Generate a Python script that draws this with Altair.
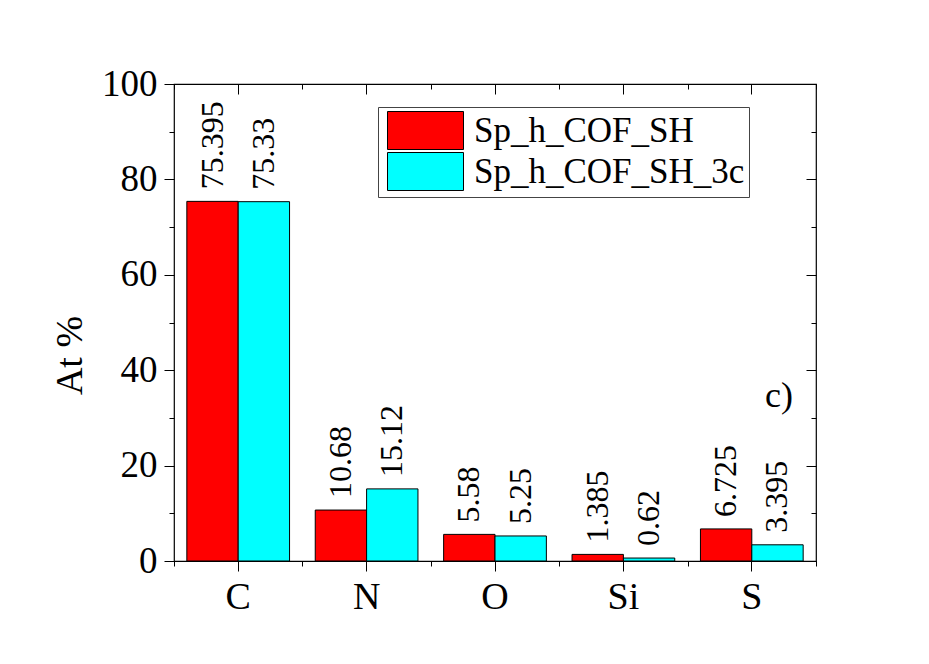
import altair as alt
import pandas as pd

elements = ["C", "N", "O", "Si", "S"]
series = ["Sp_h_COF_SH", "Sp_h_COF_SH_3c"]
vals_sh = [75.395, 10.68, 5.58, 1.385, 6.725]
vals_3c = [75.33, 15.12, 5.25, 0.62, 3.395]
labels_sh = ["75.395", "10.68", "5.58", "1.385", "6.725"]
labels_3c = ["75.33", "15.12", "5.25", "0.62", "3.395"]
colors = ["#FF0000", "#00FFFF"]
y_major = [0, 20, 40, 60, 80, 100]
y_minor = [10, 30, 50, 70, 90]
panel_tag = ["c)"]

rows = []
for e, v, l in zip(elements, vals_sh, labels_sh):
    rows.append({"Element": e, "Series": series[0], "Value": v, "Label": l})
for e, v, l in zip(elements, vals_3c, labels_3c):
    rows.append({"Element": e, "Series": series[1], "Value": v, "Label": l})
df = pd.DataFrame(rows)

FONT = "Liberation Serif"

xscale = alt.Scale(domain=elements, paddingInner=0, paddingOuter=0)
yscale = alt.Scale(domain=[0, 100], nice=False, zero=True)
xoff = alt.XOffset("Series:N", sort=series,
                   scale=alt.Scale(domain=series, paddingOuter=0.25, paddingInner=0))


def ax(**kw):
    base = dict(title=None, domain=False, grid=False, tickColor="black", tickWidth=1)
    base.update(kw)
    return alt.Axis(**base)


bars = alt.Chart(df).mark_bar(stroke="black", strokeWidth=1).encode(
    x=alt.X("Element:N", sort=elements, scale=xscale,
            axis=ax(orient="bottom", labelFont=FONT, labelFontSize=38, labelColor="black",
                    labelPadding=7, labelAngle=0, tickSize=10)),
    xOffset=xoff,
    y=alt.Y("Value:Q", scale=yscale,
            axis=ax(orient="left", values=y_major, tickSize=10, labelPadding=7,
                    labelFont=FONT, labelFontSize=37, labelColor="black",
                    title="At %", titleFont=FONT, titleFontSize=38, titleFontWeight="normal",
                    titleColor="black", titleAngle=270, titleX=-104, titleY=271,
                    titleAlign="center", titleBaseline="middle")),
    color=alt.Color("Series:N", sort=series, scale=alt.Scale(domain=series, range=colors),
                    legend=alt.Legend(orient="none", legendX=204, legendY=23, title=None,
                                      symbolType="M-2,-1H2V1H-2Z", symbolSize=1444,
                                      symbolOffset=24,
                                      symbolStrokeColor="black", symbolStrokeWidth=1,
                                      symbolOpacity=1, labelFont=FONT, labelFontSize=35,
                                      labelColor="black", labelLimit=600,
                                      strokeColor="#444444",
                                      fillColor="white", padding=4, rowPadding=-3,
                                      labelOffset=29)),
)

labels = alt.Chart(df).mark_text(angle=270, align="left", baseline="middle", dx=12,
                                 font=FONT, fontSize=32, color="black").encode(
    x=alt.X("Element:N", sort=elements, scale=xscale, axis=None),
    xOffset=xoff,
    y=alt.Y("Value:Q", scale=yscale, axis=None),
    text="Label:N",
)


def ghost(xaxis=None, yaxis=None):
    return alt.Chart(df).mark_bar(opacity=0).encode(
        x=alt.X("Element:N", sort=elements, scale=xscale, axis=xaxis),
        y=alt.Y("Value:Q", scale=yscale, axis=yaxis),
    )


g_bottom_minor = ghost(xaxis=ax(orient="bottom", labels=False, tickSize=5, tickBand="extent"))
g_left_minor = ghost(yaxis=ax(orient="left", labels=False, values=y_minor, tickSize=5))
g_right_major = ghost(yaxis=ax(orient="right", labels=False, values=y_major, tickSize=10, offset=-10))
g_right_minor = ghost(yaxis=ax(orient="right", labels=False, values=y_minor, tickSize=5, offset=-5))
g_top_major = ghost(xaxis=ax(orient="top", labels=False, tickSize=10, offset=-10))
g_top_minor = ghost(xaxis=ax(orient="top", labels=False, tickSize=5, offset=-5, tickBand="extent"))

tag = alt.Chart(pd.DataFrame({"t": panel_tag})).mark_text(
    font=FONT, fontSize=36, color="black", align="center", baseline="alphabetic"
).encode(text="t:N", x=alt.value(605), y=alt.value(323))

chart = alt.layer(
    bars, labels, g_bottom_minor, g_left_minor, g_right_major, g_right_minor,
    g_top_major, g_top_minor, tag
).resolve_axis(x="independent", y="independent").properties(
    width=642, height=477,
    autosize=alt.AutoSizeParams(type="none"),
    padding={"left": 166, "top": 76, "right": 105, "bottom": 95},
    background="white",
).configure_view(stroke="black", strokeWidth=1.2)

chart.save("out.html", embed_options={"renderer": "svg", "actions": False})
